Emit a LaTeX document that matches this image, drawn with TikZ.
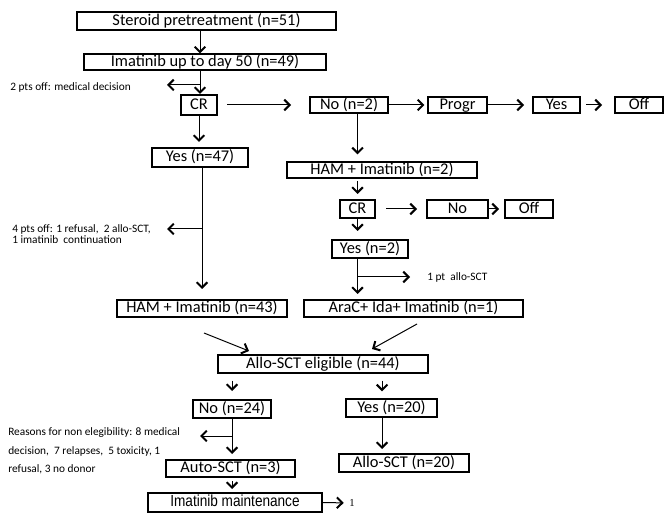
\documentclass[tikz,border=0pt]{standalone}
\usepackage{fontspec}
\setmainfont{Carlito}
\newfontfamily\narrowfont[FakeStretch=0.85]{Liberation Sans}
\newfontfamily\serifone{Liberation Serif}
\usetikzlibrary{arrows.meta,calc}

\newcommand{\boxfont}{\fontsize{12.3}{14}\selectfont}
\newcommand{\notefont}{\fontsize{8.5}{8.25}\selectfont}

\begin{document}
\begin{tikzpicture}[x=0.75pt,y=-0.75pt,
    box/.style 2 args={draw, line width=1.5pt, inner sep=0pt, font=\boxfont,
      text height=8.6pt, text depth=2.4pt, minimum width=#1, minimum height=#2},
    note/.style={inner sep=0pt, font=\notefont, align=left},
    arr/.style={line width=0.75pt, -{Straight Barb[length=4pt,width=8pt,line width=1.5pt]}}]
  \useasboundingbox (0,0) rectangle (670,523);

  % left column, top
  \node[box={194.25pt}{13.5pt}] (ster) at (206.5,21) {Steroid pretreatment (n=51)};
  \node[box={181.5pt}{12pt}] (imat) at (205,62.5) {Imatinib up to day 50 (n=49)};
  \node[box={27pt}{15pt}] (cr1) at (199,105) {CR};
  \node[box={72pt}{14.25pt}] (yes47) at (200,157.5) {Yes (n=47)};
  \node[box={127.5pt}{12.75pt}] (ham43) at (202,308.5) {HAM + Imatinib (n=43)};

  % first row to the right
  \node[box={58.5pt}{12pt}] (no2) at (349,105) {No (n=2)};
  \node[box={44.25pt}{12pt}] (progr) at (457.5,105) {Progr};
  \node[box={35.25pt}{12pt}] (yesP) at (556.5,105) {Yes};
  \node[box={36pt}{12pt}] (off1) at (639,105) {Off};

  % right column
  \node[box={142.5pt}{12pt}] (ham2) at (382,170) {HAM + Imatinib (n=2)};
  \node[box={26.25pt}{13.5pt}] (cr2) at (357.5,209) {CR};
  \node[box={45.75pt}{13.5pt}] (no3) at (457.5,209) {No};
  \node[box={36pt}{13.5pt}] (off2) at (529,209) {Off};
  \node[box={57pt}{13.5pt}] (yes2) at (370,249) {Yes (n=2)};
  \node[box={164.25pt}{12.75pt}] (arac) at (413.5,308.5) {AraC+ Ida+ Imatinib (n=1)};

  % bottom part
  \node[box={157.5pt}{13.5pt}] (elig) at (323,364) {Allo-SCT eligible (n=44)};
  \node[box={58.5pt}{13.5pt}] (no24) at (232,409) {No (n=24)};
  \node[box={68.25pt}{13.5pt}] (yes20) at (391.5,408) {Yes (n=20)};
  \node[box={96.75pt}{12.75pt}] (auto) at (230.5,468.5) {Auto-SCT (n=3)};
  \node[box={97.5pt}{13.5pt}] (allo) at (404,463) {Allo-SCT (n=20)};
  \node[box={130.5pt}{14.25pt}, font=\narrowfont\fontsize{12}{13}\selectfont] (maint) at (235,502.5) {Imatinib maintenance};

  % side notes
  \node[note, anchor=west] (pts1) at (10,87) {2 pts off: medical decision};
  \node[note, anchor=west] (pts2) at (12,234.5) {4 pts off: 1 refusal, ~2 allo-SCT,\\1 imatinib ~continuation};
  \node[note, anchor=west] (pt3) at (427,277) {1 pt ~allo-SCT};
  \node[note, anchor=west, font=\fontsize{8.5}{14}\selectfont] (reasons) at (8,451)
    {Reasons for non elegibility: 8 medical\\decision, ~7 relapses, ~5 toxicity, 1\\refusal, 3 no donor};
  \node[inner sep=0pt, font=\serifone\fontsize{8}{9}\selectfont, anchor=west] (one) at (349,503) {1};

  \coordinate (t1) at (167,85);
  \coordinate (t2) at (167,229);
  \coordinate (t3) at (410,277);
  \coordinate (t4) at (200,436);

  % connectors
  \draw[arr] (ster.south -| yes47) -- (imat.north -| yes47);
  \draw[arr] (imat.south -| yes47) -- (cr1.north -| yes47);
  \draw[arr] (yes47 |- t1) -- (t1);
  \draw[arr, shorten >=3.75pt] (cr1.south) -- (yes47.north -| cr1);
  \draw[line width=0.75pt] (yes47.south -| ham43) -- (ham43 |- t2);
  \draw[arr, shorten >=7.5pt] (ham43 |- t2) -- (ham43.north);
  \draw[arr] (ham43 |- t2) -- (t2);

  \draw[arr, shorten <=6.75pt, shorten >=13.5pt] (cr1.east) -- (no2.west);
  \draw[arr, shorten >=2pt] (no2.east) -- (progr.west);
  \draw[arr, shorten >=6pt] (progr.east) -- (yesP.west);
  \draw[arr, shorten <=3.75pt, shorten >=9pt] (yesP.east) -- (off1.west);

  \draw[arr, shorten >=5pt] (no2.south -| cr2) -- (ham2.north -| cr2);
  \draw[arr, shorten <=1.5pt, shorten >=3.75pt] (ham2.south -| cr2) -- (cr2.north);
  \draw[arr, shorten <=7.5pt, shorten >=6.75pt] (cr2.east) -- (no3.west);
  \draw[arr, shorten >=3.75pt] (no3.east) -- (off2.west);
  \draw[arr, shorten >=6pt] (cr2.south) -- (yes2.north -| cr2);
  \draw[arr, shorten >=3.75pt] (yes2.south -| cr2) -- (arac.north -| cr2);
  \draw[arr] (cr2 |- t3) -- (t3);

  \draw[arr] ($(ham43.south)+(2,15)$) -- ($(elig.north west)+(32,-3)$);
  \draw[arr] ($(arac.south)+(3.5,6)$) -- ($(elig.north)+(49,-5)$);

  \draw[arr, shorten <=5pt, shorten >=6pt] (elig.south -| no24) -- (no24.north);
  \draw[arr, shorten <=5pt, shorten >=5pt] (elig.south -| {$(yes20.south)+(-9.5,0)$}) -- ($(yes20.north)+(-9.5,0)$);
  \draw[arr, shorten >=3pt] ($(yes20.south)+(-9.5,0)$) -- (allo.north -| {$(yes20.south)+(-9.5,0)$});
  \draw[arr, shorten >=3.75pt] (no24.south) -- (auto.north -| no24);
  \draw[arr] (no24 |- t4) -- (t4);
  \draw[arr, shorten <=2.25pt, shorten >=2.25pt] (auto.south -| no24) -- (maint.north -| no24);
  \draw[arr, shorten >=4pt] (maint.east) -- (one.west);
\end{tikzpicture}
\end{document}
